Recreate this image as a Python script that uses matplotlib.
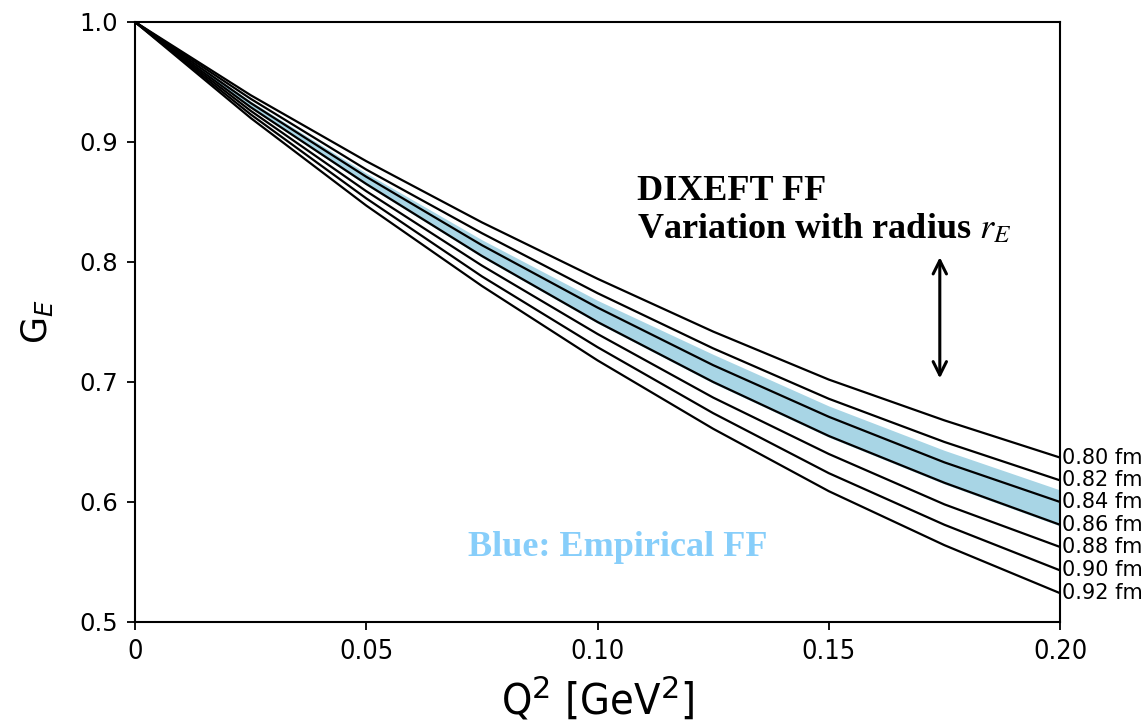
import numpy as np
import matplotlib
matplotlib.use('Agg')
import matplotlib.pyplot as plt

# Q^2 grid [GeV^2]
q2 = [0.0, 0.025, 0.05, 0.075, 0.10, 0.125, 0.15, 0.175, 0.20]

# DIXEFT form factor G_E for several charge radii
radii = ['0.80', '0.82', '0.84', '0.86', '0.88', '0.90', '0.92']
ge_080 = [1.0, 0.939, 0.884, 0.833, 0.786, 0.742, 0.702, 0.668, 0.637]
ge_082 = [1.0, 0.936, 0.877, 0.824, 0.774, 0.728, 0.686, 0.650, 0.618]
ge_084 = [1.0, 0.9325, 0.871, 0.814, 0.762, 0.714, 0.671, 0.633, 0.600]
ge_086 = [1.0, 0.929, 0.865, 0.805, 0.750, 0.700, 0.655, 0.616, 0.581]
ge_088 = [1.0, 0.926, 0.859, 0.797, 0.740, 0.687, 0.640, 0.598, 0.5625]
ge_090 = [1.0, 0.923, 0.853, 0.788, 0.729, 0.674, 0.624, 0.581, 0.543]
ge_092 = [1.0, 0.920, 0.847, 0.780, 0.718, 0.661, 0.609, 0.564, 0.524]
curves = [ge_080, ge_082, ge_084, ge_086, ge_088, ge_090, ge_092]

# empirical band
band_hi = [1.0, 0.934, 0.874, 0.8185, 0.768, 0.723, 0.680, 0.643, 0.610]
band_lo = [1.0, 0.9285, 0.864, 0.804, 0.749, 0.699, 0.654, 0.615, 0.580]

xticks = [0, 0.05, 0.10, 0.15, 0.20]
xticklabels = ['0', '0.05', '0.10', '0.15', '0.20']
yticks = [0.5, 0.6, 0.7, 0.8, 0.9, 1.0]

fig = plt.figure(figsize=(11.48, 7.25), dpi=100)
ax = fig.add_axes([0.1176, 0.1421, 0.8058, 0.8276])

ax.fill_between(q2, band_lo, band_hi, color='#a8d5e5', lw=0, zorder=1)
for ge in curves:
    ax.plot(q2, ge, color='black', lw=1.6, zorder=2)

for r, ge in zip(radii, curves):
    ax.text(0.2005, ge[-1], f'{r} fm', fontsize=15, va='center', ha='left',
            clip_on=False)

ax.set_xlim(0, 0.20)
ax.set_ylim(0.5, 1.0)
ax.set_xticks(xticks)
ax.set_xticklabels(xticklabels, fontsize=19.5, fontstretch='condensed')
ax.set_yticks(yticks)
ax.set_yticklabels([f'{v:.1f}' for v in yticks], fontsize=17.5)
ax.tick_params(direction='out', length=6, width=1.3, pad=6)
for s in ax.spines.values():
    s.set_linewidth(1.5)

ax.set_xlabel('Q$^2$ [GeV$^2$]', fontsize=31, fontstretch='condensed', labelpad=8)
ax.set_ylabel('G$_E$', fontsize=25, labelpad=18)

serif = dict(family='Liberation Serif', weight='bold', fontsize=26)
ax.text(0.1085, 0.852, 'DIXEFT FF', ha='left', va='baseline', **serif)
ax.text(0.1085, 0.8195, 'Variation with radius $r_E$', ha='left', va='baseline',
        math_fontfamily='stix', **serif)
ax.text(0.072, 0.555, 'Blue: Empirical FF', ha='left', va='baseline',
        color='#87CEFA', **serif)

ax.annotate('', xy=(0.174, 0.703), xytext=(0.174, 0.804),
            arrowprops=dict(arrowstyle='<->', color='black', lw=2.2,
                            mutation_scale=24, shrinkA=0, shrinkB=0))

fig.savefig('out.png', dpi=100)
